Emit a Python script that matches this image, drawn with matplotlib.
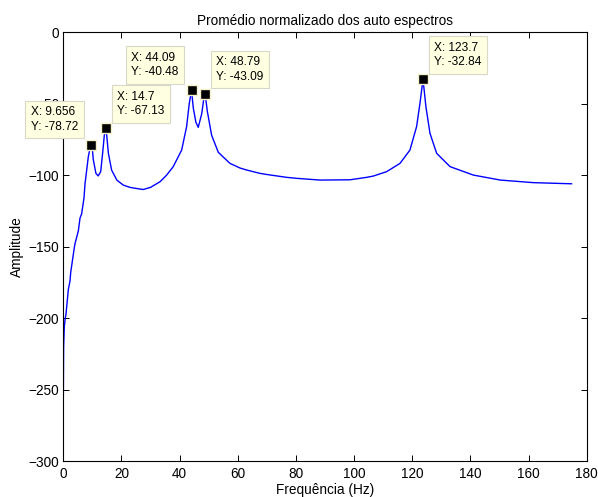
import matplotlib
matplotlib.use("Agg")
import matplotlib.pyplot as plt

plt.rcParams['font.family'] = ['Liberation Sans', 'DejaVu Sans']

# Averaged, normalised auto-spectrum (frequency in Hz, amplitude in dB)
freq = [0.0, 0.1, 0.34, 0.6, 0.93, 1.72, 2.3, 2.54, 3.68, 4.0, 5.16, 5.74,
        6.3, 7.1, 7.46, 8.6, 9.2, 9.656, 10.0, 10.3, 11.2, 12.0, 12.85, 13.5,
        14.1, 14.7, 15.1, 15.5, 16.6, 18.4, 20.6, 22.9, 25.8, 27.5, 30.0,
        33.3, 35.5, 37.8, 40.7, 42.4, 43.3, 44.09, 44.7, 45.6, 46.4, 47.6,
        48.2, 48.79, 49.5, 51.0, 53.3, 57.3, 60.8, 63.1, 67.6, 70.0, 76.8,
        80.3, 88.3, 98.6, 104.3, 106.6, 111.2, 115.8, 119.2, 121.5, 122.7,
        123.7, 124.7, 126.1, 128.4, 133.0, 141.0, 150.3, 161.6, 168.0, 174.8]
amplitude = [-255, -220, -206, -201, -197, -180, -174, -168, -152, -148, -139,
             -130, -127, -116, -106, -87, -81, -78.72, -82, -89, -98.7, -100.5,
             -97.5, -85, -72, -67.13, -76, -84.7, -96.4, -103.4, -106.9, -108.5,
             -109.5, -110, -108.5, -104.5, -100, -94, -82.4, -66, -50, -40.48,
             -53, -63, -66.5, -57, -48, -43.09, -55, -72, -84, -91.7, -95,
             -96.4, -98.7, -99.5, -101.5, -102.2, -103.4, -103.2, -101.5,
             -100.6, -97.5, -91.7, -82.4, -66, -49, -32.84, -52, -70.7, -84.7,
             -94, -99.9, -103.4, -105.2, -105.6, -106]

# Data cursor readouts on the spectral peaks
tip_x = [9.656, 14.7, 44.09, 48.79, 123.7]
tip_y = [-78.72, -67.13, -40.48, -43.09, -32.84]
tip_labels = ["X: 9.656\nY: -78.72", "X: 14.7\nY: -67.13",
              "X: 44.09\nY: -40.48", "X: 48.79\nY: -43.09",
              "X: 123.7\nY: -32.84"]
tip_side = ["left", "right", "left", "right", "right"]

x_ticks = [0, 20, 40, 60, 80, 100, 120, 140, 160, 180]
y_ticks = [-300, -250, -200, -150, -100, -50, 0]

fig = plt.figure(figsize=(5.98, 4.97), dpi=100)
ax = fig.add_axes([0.1059, 0.0724, 0.8752, 0.8626])

ax.plot(freq, amplitude, color='#0000ff', lw=1.0)
ax.plot(tip_x, tip_y, ls='none', marker='s', ms=6.5, mfc='black',
        mec='#f5f0c8', mew=1.0, zorder=5)

for x, y, txt, side in zip(tip_x, tip_y, tip_labels, tip_side):
    if side == "left":
        off, ha = (-9.5, 8.5), 'right'
    else:
        off, ha = (8, 7.8), 'left'
    ax.annotate(txt, xy=(x, y), xytext=off, textcoords='offset points',
                ha=ha, va='bottom', multialignment='left', fontsize=8.6,
                linespacing=1.3,
                bbox=dict(boxstyle='square,pad=0.45', fc='#ffffe1',
                          ec='#d8d8c8', lw=0.8), zorder=6)

ax.set_xlim(0, 180)
ax.set_ylim(-300, 0)
ax.set_xticks(x_ticks)
ax.set_yticks(y_ticks)
ax.tick_params(direction='in', top=True, right=True, length=4, width=0.7,
               labelsize=9.8)
ax.tick_params(axis='x', pad=4)
ax.tick_params(axis='y', pad=3)
for s in ax.spines.values():
    s.set_linewidth(0.8)

ax.set_title("Promédio normalizado dos auto espectros", fontsize=9.8, pad=5)
ax.set_xlabel("Frequência (Hz)", fontsize=9.8, labelpad=2)
ax.set_ylabel("Amplitude", fontsize=9.8, labelpad=3)

fig.savefig("out.png", dpi=100)
